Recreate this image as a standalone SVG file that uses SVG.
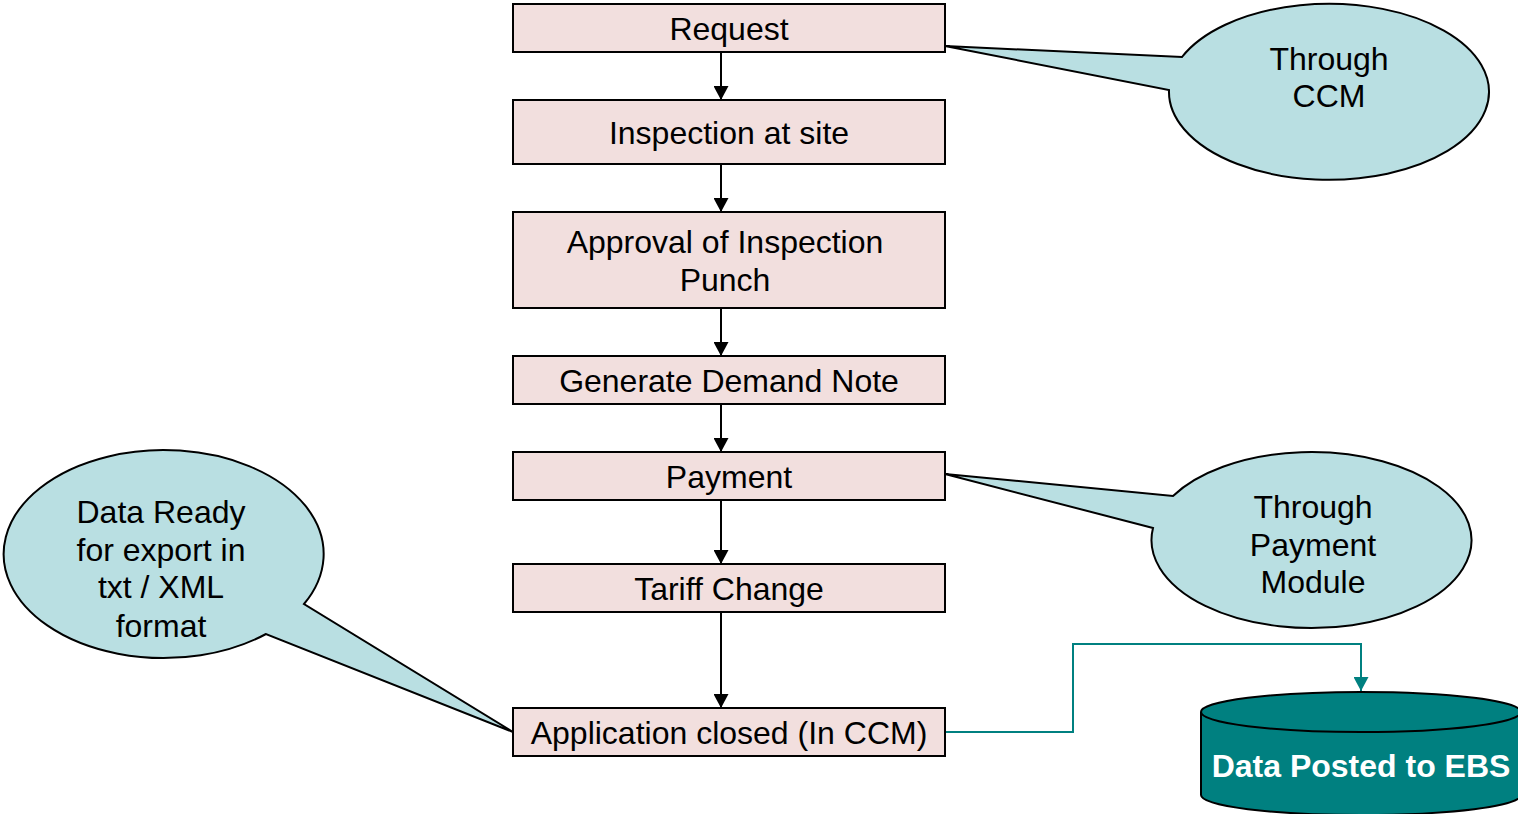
<svg xmlns="http://www.w3.org/2000/svg" width="1518" height="814" viewBox="0 0 1518 814">
<defs>
<style>
.box{fill:#F2DFDE;stroke:#000;stroke-width:2}
.call{fill:#B9DFE2;stroke:#000;stroke-width:2;stroke-linejoin:miter}
.t{font-family:"Liberation Sans",Arial,sans-serif;font-size:32px;fill:#000;text-anchor:middle}
.tw{font-family:"Liberation Sans",Arial,sans-serif;font-size:32px;font-weight:bold;fill:#fff;text-anchor:middle}
.ar{stroke:#000;stroke-width:2;fill:none}
.tl{stroke:#008080;stroke-width:2;fill:none}
</style>
<marker id="ah" markerWidth="14" markerHeight="15" refX="14" refY="7.5" orient="auto" markerUnits="userSpaceOnUse"><path d="M0,0 L14,7.5 L0,15 Z" fill="#000"/></marker>
<marker id="aht" markerWidth="14" markerHeight="15" refX="14" refY="7.5" orient="auto" markerUnits="userSpaceOnUse"><path d="M0,0 L14,7.5 L0,15 Z" fill="#008080"/></marker>
</defs>
<g id="connectors">
<line class="ar" x1="721" y1="52" x2="721" y2="100" marker-end="url(#ah)"/>
<line class="ar" x1="721" y1="164" x2="721" y2="212" marker-end="url(#ah)"/>
<line class="ar" x1="721" y1="308" x2="721" y2="356" marker-end="url(#ah)"/>
<line class="ar" x1="721" y1="404" x2="721" y2="452" marker-end="url(#ah)"/>
<line class="ar" x1="721" y1="500" x2="721" y2="564" marker-end="url(#ah)"/>
<line class="ar" x1="721" y1="612" x2="721" y2="708" marker-end="url(#ah)"/>
<polyline class="tl" points="945,732 1073,732 1073,644 1361,644 1361,691" marker-end="url(#aht)"/>
</g>
<g id="n-request"><rect class="box" x="513" y="4" width="432" height="48"/><text class="t" x="729" y="40">Request</text></g>
<g id="n-inspection"><rect class="box" x="513" y="100" width="432" height="64"/><text class="t" x="729" y="144">Inspection at site</text></g>
<g id="n-approval"><rect class="box" x="513" y="212" width="432" height="96"/><text class="t" x="725" y="253">Approval of Inspection</text><text class="t" x="725" y="291">Punch</text></g>
<g id="n-demand"><rect class="box" x="513" y="356" width="432" height="48"/><text class="t" x="729" y="392">Generate Demand Note</text></g>
<g id="n-payment"><rect class="box" x="513" y="452" width="432" height="48"/><text class="t" x="729" y="488">Payment</text></g>
<g id="n-tariff"><rect class="box" x="513" y="564" width="432" height="48"/><text class="t" x="729" y="600">Tariff Change</text></g>
<g id="n-closed"><rect class="box" x="513" y="708" width="432" height="48"/><text class="t" x="729" y="744">Application closed (In CCM)</text></g>
<g id="c-ccm">
<path class="call" d="M1182,57 A160,88 0 1 1 1169,90 L945,46 Z"/>
<text class="t" x="1329" y="70">Through</text><text class="t" x="1329" y="107">CCM</text>
</g>
<g id="c-paymod">
<path class="call" d="M1173,496 A160,88 0 1 1 1153,528 L945,474 Z"/>
<text class="t" x="1313" y="518">Through</text><text class="t" x="1313" y="556">Payment</text><text class="t" x="1313" y="593">Module</text>
</g>
<g id="c-export">
<path class="call" d="M266,634 A160,104 0 1 1 304,604 L513,732 Z"/>
<text class="t" x="161" y="523">Data Ready</text><text class="t" x="161" y="561">for export in</text><text class="t" x="161" y="598">txt / XML</text><text class="t" x="161" y="637">format</text>
</g>
<g id="n-ebs">
<path d="M1201,712 L1201,795 A160,20 0 0 0 1521,795 L1521,712 A160,20 0 0 0 1201,712 Z" fill="#008080" stroke="#000" stroke-width="2"/>
<path d="M1201,712 A160,20 0 0 0 1521,712" fill="none" stroke="#000" stroke-width="2"/>
<text class="tw" x="1361" y="777">Data Posted to EBS</text>
</g>
</svg>
